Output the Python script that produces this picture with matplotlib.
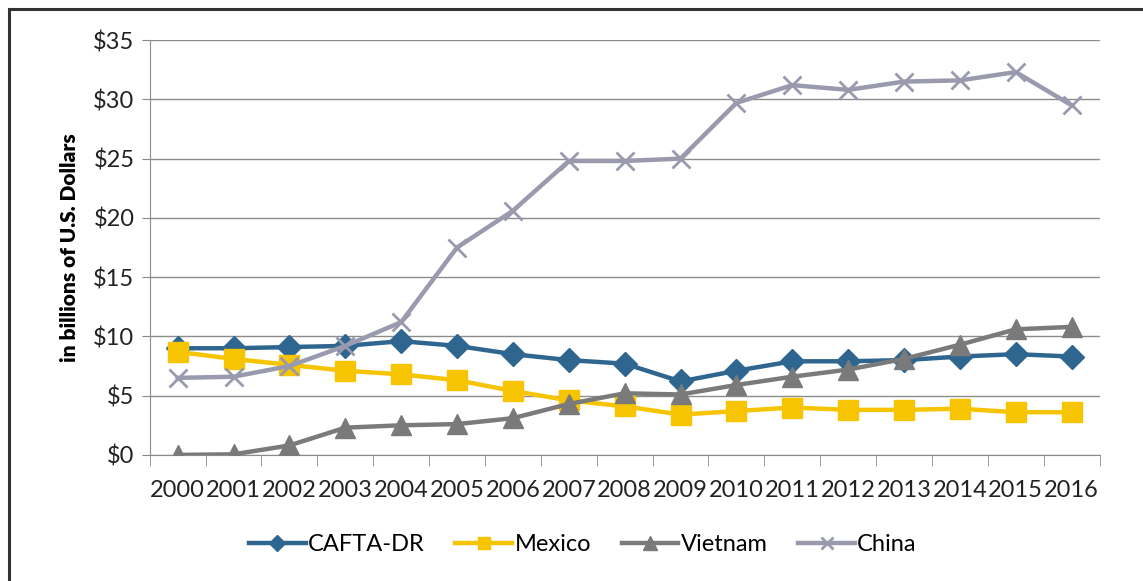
import matplotlib.pyplot as plt
from matplotlib.lines import Line2D
import numpy as np

years = [str(y) for y in range(2000, 2017)]
cafta = [9.0, 9.0, 9.1, 9.2, 9.6, 9.2, 8.5, 8.0, 7.7, 6.2, 7.1, 7.9, 7.9, 8.0, 8.3, 8.5, 8.3]
mexico = [8.7, 8.1, 7.6, 7.1, 6.8, 6.3, 5.4, 4.6, 4.1, 3.4, 3.7, 4.0, 3.8, 3.8, 3.9, 3.6, 3.6]
vietnam = [0.0, 0.05, 0.8, 2.3, 2.5, 2.6, 3.1, 4.3, 5.2, 5.1, 5.9, 6.6, 7.2, 8.1, 9.3, 10.6, 10.8]
china = [6.5, 6.6, 7.5, 9.2, 11.2, 17.5, 20.6, 24.8, 24.8, 25.0, 29.7, 31.2, 30.8, 31.5, 31.6, 32.3, 29.5]
y_ticks = [0, 5, 10, 15, 20, 25, 30, 35]

SERIES = [
    ("CAFTA-DR", cafta, "#2F6690", "D", 12),
    ("Mexico", mexico, "#F6C400", "s", 14),
    ("Vietnam", vietnam, "#7A7A7A", "^", 15),
    ("China", china, "#9A9AAE", "x", 13),
]

plt.rcParams["font.family"] = ["Lato", "DejaVu Sans"]

fig = plt.figure(figsize=(11.43, 5.81), dpi=100, facecolor="white")
ax = fig.add_axes([0.131, 0.217, 0.831, 0.714])

x = np.arange(len(years))
for name, vals, color, marker, ms in SERIES:
    mew = 2.0 if marker == "x" else 1
    ax.plot(x, vals, color=color, linewidth=3.2, marker=marker,
            markersize=ms, markeredgewidth=mew, markeredgecolor=color,
            markerfacecolor=color, label=name, zorder=3)

ax.set_xlim(-0.5, len(years) - 0.5)
ax.set_ylim(0, 35)
ax.set_yticks(y_ticks)
ax.set_yticklabels([f"${v}" for v in y_ticks], fontsize=17, color="#222222")
ax.set_xticks(x)
ax.set_xticklabels(years, fontsize=17, color="#222222")
ax.set_xticks(np.arange(-0.5, len(years), 1), minor=True)
ax.tick_params(axis="x", which="major", length=0, pad=18)
ax.tick_params(axis="x", which="minor", length=8, color="#888888")
ax.tick_params(axis="y", length=6, color="#888888", pad=5)

ax.grid(axis="y", color="#8c8c8c", linewidth=1.0)
ax.set_axisbelow(True)
for side in ("top", "right"):
    ax.spines[side].set_visible(False)
ax.spines["left"].set_color("#8c8c8c")
ax.spines["bottom"].set_color("#8c8c8c")

ax.set_ylabel("in billions of U.S. Dollars", fontsize=15, fontweight="heavy",
              labelpad=10)

handles, labels = ax.get_legend_handles_labels()
fig.legend(handles, labels, loc="center", bbox_to_anchor=(0.51, 0.062),
           ncol=4, frameon=False, fontsize=17, handlelength=2.4,
           handletextpad=0.1, columnspacing=1.3, markerscale=0.65)

# screenshot frame on top and left
fig.add_artist(Line2D([0.008, 0.008], [0.0, 0.985], color="#333333",
                      linewidth=2.2, transform=fig.transFigure))
fig.add_artist(Line2D([0.008, 1.0], [0.985, 0.985], color="#333333",
                      linewidth=2.2, transform=fig.transFigure))

fig.savefig("out.png", dpi=100, facecolor="white")
